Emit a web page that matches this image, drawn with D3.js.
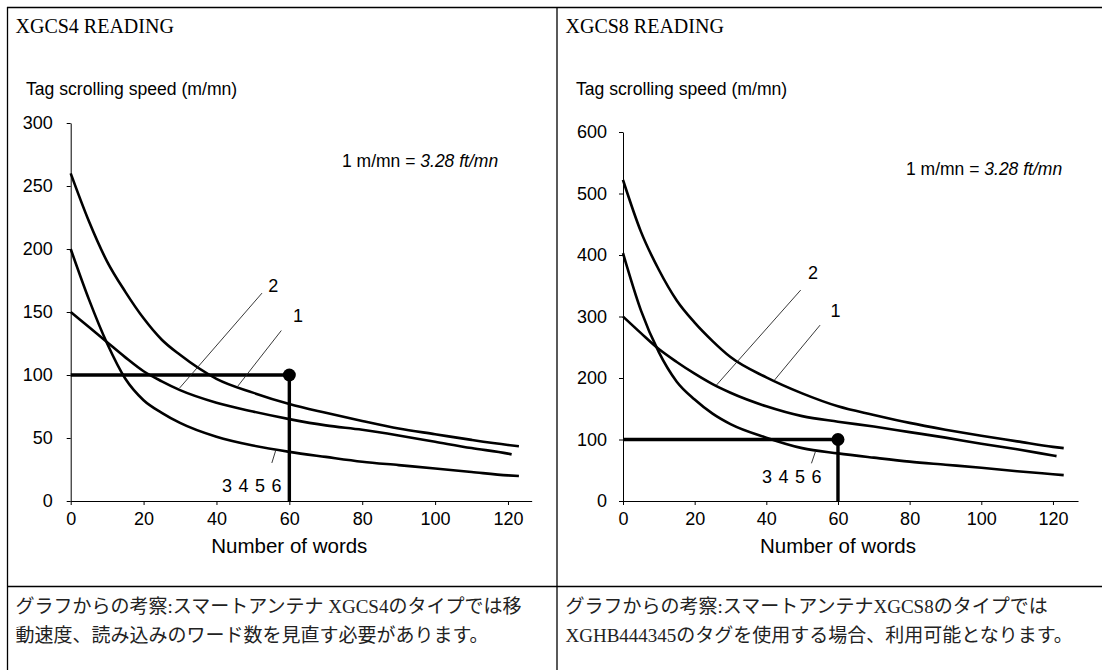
<!DOCTYPE html>
<html><head><meta charset="utf-8">
<script src="https://cdn.jsdelivr.net/npm/d3@7"></script>
<style>body{margin:0;background:#fff;overflow:hidden}</style>
</head><body>
<svg id="c" width="1102" height="670"></svg>
<script>
// ---------- DATA ----------
const xTicks4 = [0, 20, 40, 60, 80, 100, 120];
const yTicks4 = [0, 50, 100, 150, 200, 250, 300];
const xTicks8 = [0, 20, 40, 60, 80, 100, 120];
const yTicks8 = [0, 100, 200, 300, 400, 500, 600];

// XGCS4 curves (number of words -> speed m/mn)
const xgcs4Words1 = [0,5,10,15,20,25,30,40,50,60,70,80,90,100,110,120,123];
const xgcs4Curve1 = [260,222,190,166,145,128,116,97,86,77,70,63.5,57.5,53,48.5,44.5,43.5];
const xgcs4Words2 = [0,5,10,15,20,25,30,40,50,60,70,80,90,100,110,120,121];
const xgcs4Curve2 = [150,138,126,114,103,95,88,78,71,65,60,56.5,52,47,42,37.6,37];
const xgcs4Words3 = [0,5,10,15,20,25,30,40,50,60,70,80,90,100,110,120,123];
const xgcs4Curve3456 = [200,160,125,97,80,70,62,51,44,39,35,31.2,28.5,25.8,23,20.3,19.8];
const xgcs4Point = [60, 100];

// XGCS8 curves
const xgcs8Words1 = [0,5,10,15,20,25,30,40,50,60,70,80,90,100,110,120,123];
const xgcs8Curve1 = [522,438,376,326,290,260,234,201,175,154,140,127,116,106,97,88,86];
const xgcs8Words2 = [0,5,10,15,20,25,30,40,50,60,70,80,90,100,110,120,121];
const xgcs8Curve2 = [300,273,247,226,207,190,176,154,138,129,121,112,103,93,84,74,73];
const xgcs8Words3 = [0,5,10,15,20,25,30,40,50,60,70,80,90,100,110,120,123];
const xgcs8Curve3456 = [403,310,242,194,165,142,125,103,86,77.5,70.5,64,59,54,48.5,43.5,42];
const xgcs8Point = [60, 100];

const titles = ["XGCS4 READING", "XGCS8 READING"];
const yTitle = "Tag scrolling speed (m/mn)";
const xTitle = "Number of words";
const notes = [
  ["グラフからの考察:スマートアンテナ XGCS4のタイプでは移", "動速度、読み込みのワード数を見直す必要があります。"],
  ["グラフからの考察:スマートアンテナXGCS8のタイプでは", "XGHB444345のタグを使用する場合、利用可能となります。"]
];

// ---------- DRAW ----------
const svg = d3.select("#c");
const SANS = "'Liberation Sans', Arial, sans-serif";
const SERIF = "'Liberation Serif', 'Noto Sans CJK JP', serif";

// table grid
const grid = svg.append("g").attr("stroke", "#000").attr("stroke-width", 1.3);
grid.append("line").attr("x1", 7).attr("x2", 1102).attr("y1", 7.5).attr("y2", 7.5);
grid.append("line").attr("x1", 7.5).attr("x2", 7.5).attr("y1", 7).attr("y2", 670);
grid.append("line").attr("x1", 557).attr("x2", 557).attr("y1", 7).attr("y2", 670);
grid.append("line").attr("x1", 7).attr("x2", 1102).attr("y1", 586.5).attr("y2", 586.5);

function zip(xs, ys) { return xs.map((x, i) => [x, ys[i]]); }

function drawPanel(cfg) {
  const g = svg.append("g");
  const x = d3.scaleLinear().domain(cfg.xDomain).range(cfg.xRange);
  const y = d3.scaleLinear().domain(cfg.yDomain).range(cfg.yRange);

  g.append("text").attr("x", cfg.ox + 15.5).attr("y", 33)
    .attr("font-family", SERIF).attr("font-size", 20).attr("fill", "#000")
    .text(cfg.title);
  g.append("text").attr("x", cfg.ox + 26).attr("y", 95)
    .attr("font-family", SANS).attr("font-size", 17.6).attr("fill", "#000")
    .text(yTitle);

  // axes
  const ya = g.append("g").attr("transform", `translate(${cfg.xRange[0]},0)`)
    .call(d3.axisLeft(y).tickValues(cfg.yTicks).tickSize(4).tickSizeOuter(0).tickPadding(cfg.yPad));
  const xa = g.append("g").attr("transform", `translate(0,${cfg.yRange[0]})`)
    .call(d3.axisBottom(x).tickValues(cfg.xTicks).tickSize(4).tickSizeOuter(0).tickPadding(7));
  [ya, xa].forEach(a => {
    a.selectAll("path,line").attr("stroke", "#000").attr("stroke-width", 1);
    a.selectAll("text").attr("font-family", SANS).attr("font-size", 18).attr("fill", "#000");
  });

  g.append("text").attr("x", (x(cfg.xTitleAt))).attr("y", 553)
    .attr("text-anchor", "middle").attr("font-family", SANS).attr("font-size", 20.5).attr("fill", "#000")
    .text(xTitle);

  // curves
  const line = d3.line().x(d => x(d[0])).y(d => y(d[1])).curve(d3.curveMonotoneX);
  cfg.curves.forEach(c => {
    g.append("path").attr("d", line(c)).attr("fill", "none")
      .attr("stroke", "#000").attr("stroke-width", 2.6).attr("stroke-linejoin", "round");
  });

  // reference lines
  const p = cfg.point;
  g.append("path")
    .attr("d", d3.line()([[x(0), y(p[1])], [x(p[0]), y(p[1])], [x(p[0]), y(0)]]))
    .attr("fill", "none").attr("stroke", "#000").attr("stroke-width", 3.4);
  g.append("circle").attr("cx", x(p[0])).attr("cy", y(p[1])).attr("r", 6.5).attr("fill", "#000");

  // leader lines and labels
  cfg.leaders.forEach(l => {
    g.append("line").attr("x1", x(l[0])).attr("y1", y(l[1])).attr("x2", x(l[2])).attr("y2", y(l[3]))
      .attr("stroke", "#222").attr("stroke-width", 0.9);
  });
  cfg.labels.forEach(l => {
    g.append("text").attr("x", x(l[0])).attr("y", y(l[1]))
      .attr("font-family", SANS).attr("font-size", 18).attr("fill", "#000")
      .attr("word-spacing", 1.5).text(l[2]);
  });

  // conversion note
  const t = g.append("text").attr("x", cfg.noteX).attr("y", cfg.noteY)
    .attr("font-family", SANS).attr("font-size", 17.5).attr("fill", "#000");
  t.append("tspan").text("1 m/mn = ");
  t.append("tspan").attr("font-style", "italic").text("3.28 ft/mn");

  // bottom notes
  cfg.note.forEach((s, i) => {
    g.append("text").attr("x", cfg.ox + 15.5).attr("y", 613 + i * 29)
      .attr("font-family", SERIF).attr("font-size", 19).attr("fill", "#222")
      .text(s);
  });
}

drawPanel({
  ox: 0, title: titles[0],
  xDomain: [0, 126.5], xRange: [70.7, 70.7 + 126.5 * 3.644],
  yDomain: [0, 300], yRange: [501, 123],
  xTicks: xTicks4, yTicks: yTicks4, yPad: 14, xTitleAt: 60,
  curves: [zip(xgcs4Words1, xgcs4Curve1), zip(xgcs4Words2, xgcs4Curve2), zip(xgcs4Words3, xgcs4Curve3456)],
  point: xgcs4Point,
  leaders: [[52.5, 165, 29.9, 89.7], [57.8, 135.3, 45.9, 91.3], [56.3, 40.5, 55.2, 30.2]],
  labels: [[54.2, 165.9, "2"], [61, 142, "1"], [41.5, 7.1, "3 4 5 6"]],
  noteX: 342, noteY: 167,
  note: notes[0]
});

drawPanel({
  ox: 550, title: titles[1],
  xDomain: [0, 127], xRange: [623, 623 + 127 * 3.583],
  yDomain: [0, 600], yRange: [501, 132],
  xTicks: xTicks8, yTicks: yTicks8, yPad: 12, xTitleAt: 60,
  curves: [zip(xgcs8Words1, xgcs8Curve1), zip(xgcs8Words2, xgcs8Curve2), zip(xgcs8Words3, xgcs8Curve3456)],
  point: xgcs8Point,
  leaders: [[49.6, 343, 26.1, 188.6], [55, 286, 42.3, 196.7], [53.7, 80.2, 52.6, 61.3]],
  labels: [[51.6, 361, "2"], [57.9, 299, "1"], [38.8, 29.8, "3 4 5 6"]],
  noteX: 906, noteY: 175,
  note: notes[1]
});
</script>
</body></html>
